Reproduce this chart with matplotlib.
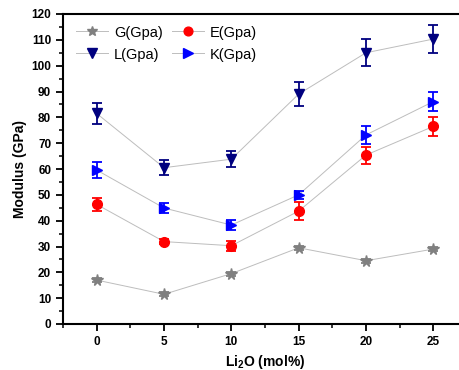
import matplotlib
matplotlib.use("Agg")
import matplotlib.pyplot as plt
from matplotlib.ticker import MultipleLocator

plt.rcParams['font.family'] = ['Liberation Sans', 'DejaVu Sans']

x = [0, 5, 10, 15, 20, 25]
G = [17.0, 11.5, 19.5, 29.5, 24.5, 29.0]
G_err = [0.8, 0.8, 0.8, 0.8, 0.8, 0.8]
E = [46.3, 31.9, 30.3, 43.7, 65.4, 76.5]
E_err = [2.5, 1.0, 2.0, 3.6, 3.3, 3.7]
L = [81.5, 60.5, 63.8, 89.0, 105.0, 110.3]
L_err = [4.2, 3.0, 3.0, 4.5, 5.2, 5.5]
K = [59.6, 44.9, 38.3, 50.0, 73.2, 86.1]
K_err = [3.0, 2.0, 2.0, 1.5, 3.6, 3.6]

fig = plt.figure(figsize=(4.59, 3.70), dpi=100)
ax = fig.add_axes([63/459, 46/370, (467-63)/459, (324-14)/370])

line_kw = dict(color='#bdbdbd', lw=0.7, zorder=1)
series = [
    ('G(Gpa)', G, G_err, '*', '#808080', 8.5),
    ('E(Gpa)', E, E_err, 'o', '#ff0000', 7),
    ('L(Gpa)', L, L_err, 'v', '#00007f', 7.5),
    ('K(Gpa)', K, K_err, '>', '#0000ff', 7.5),
]
handles = {}
for name, y, err, m, c, ms in series:
    ax.plot(x, y, **line_kw)
    ax.errorbar(x, y, yerr=err, fmt='none', ecolor=c, elinewidth=1.3,
                capsize=3.5, capthick=1.3, zorder=2)
    ax.plot(x, y, ls='none', marker=m, color=c, ms=ms, mec=c, zorder=3)
    h, = ax.plot([], [], color='#bdbdbd', lw=0.7, marker=m, mfc=c, mec=c, ms=ms*0.9)
    handles[name] = h

order = ['G(Gpa)', 'L(Gpa)', 'E(Gpa)', 'K(Gpa)']
ax.legend([handles[n] for n in order], order, ncol=2, loc='upper left',
          bbox_to_anchor=(0.0, 1.005), frameon=False, fontsize=10.5,
          handlelength=2.2, columnspacing=0.6, handletextpad=0.4,
          labelspacing=0.55)

ax.set_xlim(-2.5, 27.5)
ax.set_ylim(0, 120)
ax.xaxis.set_major_locator(MultipleLocator(5))
ax.xaxis.set_minor_locator(MultipleLocator(2.5))
ax.yaxis.set_major_locator(MultipleLocator(10))
ax.yaxis.set_minor_locator(MultipleLocator(5))
ax.tick_params(which='major', direction='out', length=5, width=1.3, labelsize=8.5)
ax.tick_params(which='minor', direction='out', length=3, width=1.1)
for lab in ax.get_xticklabels() + ax.get_yticklabels():
    lab.set_fontweight('bold')
for s in ax.spines.values():
    s.set_linewidth(1.5)

ax.set_xlabel('Li$_\\mathregular{2}$O (mol%)', fontsize=10, fontweight='bold', labelpad=4)
ax.set_ylabel('Modulus (GPa)', fontsize=10, fontweight='bold', labelpad=3)

fig.savefig('out.png', dpi=100)
